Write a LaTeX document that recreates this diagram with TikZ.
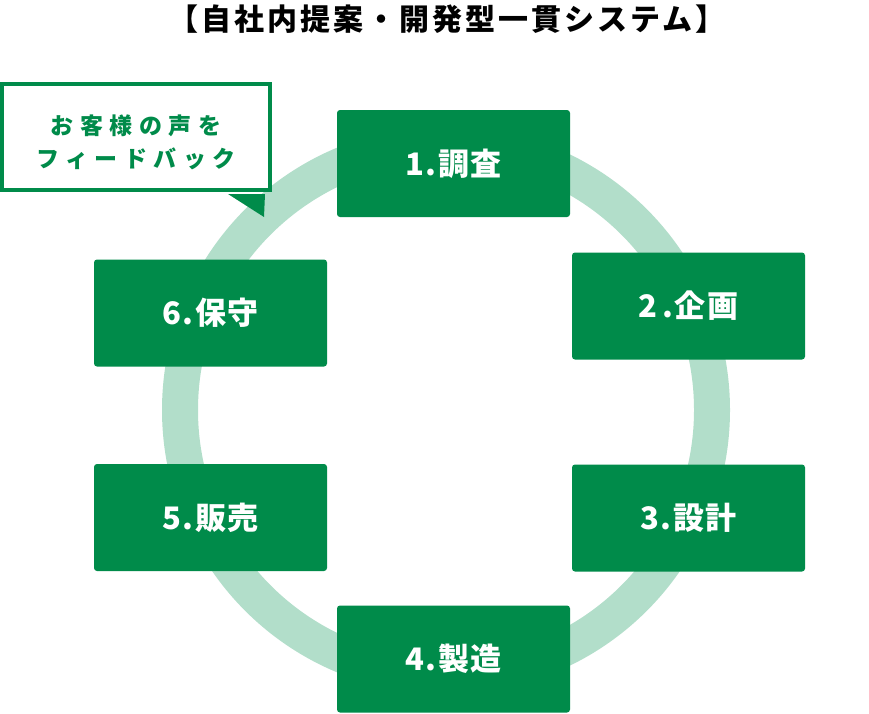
\documentclass[tikz,border=0pt]{standalone}
\usepackage{fontspec}
\newfontfamily\jp{Noto Sans CJK JP}
\usepackage{tikz}
\usetikzlibrary{positioning}
\definecolor{dgreen}{RGB}{0,139,74}
\definecolor{lgreen}{RGB}{178,222,202}

\begin{document}
\begin{tikzpicture}[x=1pt,y=-1pt,
		stage/.style={fill=dgreen,rounded corners=3pt,minimum width=233pt,minimum height=107pt,
			text=white,font=\jp\bfseries\addfontfeatures{LetterSpace=5}\fontsize{31}{34}\selectfont},
		ring/.style={draw=lgreen,line width=36pt}]
			\useasboundingbox (0,0) rectangle (869,713);
			% cycle ring
			\coordinate (c) at (446,410);
			\draw[ring] (c) circle (266pt);
			% stages
			\node[stage] (s1) at (453.5,163.5) {1.調査};
			\node[stage] (s2) at (688.5,306) {2\,.企画};
			\node[stage] (s3) at (688.5,518) {3.設計};
			\node[stage] (s4) at (453.5,659) {4.製造};
			\node[stage] (s5) at (210.5,517.5) {5.販売};
			\node[stage] (s6) at (210.5,313) {6.保守};
			% title
			\node[font=\jp\bfseries\addfontfeatures{LetterSpace=10}\fontsize{30}{33}\selectfont] (title) at (447,19) {【自社内提案・開発型一貫システム】};
			% feedback bubble
			\node[draw=dgreen,line width=4pt,fill=white,minimum width=268pt,minimum height=106pt] (fb) at (136,137) {};
			\node[align=center,text=dgreen,font=\jp\bfseries\addfontfeatures{LetterSpace=28}\fontsize{23}{33}\selectfont]
				(fbtext) at ([yshift=-5pt]fb.center) {お客様の声を\\フィードバック};
			\coordinate (tip) at (264,217);
			\fill[dgreen] ([xshift=92pt,yshift=-2pt]fb.south) -- (tip) -- ([xshift=129pt,yshift=-2pt]fb.south) -- cycle;
		\end{tikzpicture}
\end{document}
